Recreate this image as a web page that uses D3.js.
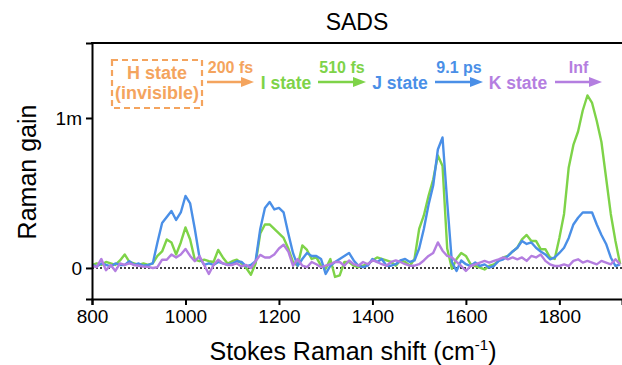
<!DOCTYPE html>
<html>
<head>
<meta charset="utf-8">
<script src="https://cdn.jsdelivr.net/npm/d3@7"></script>
<style>
  body { margin: 0; background: #fff; }
  svg { font-family: "Liberation Sans", Arial, sans-serif; }
</style>
</head>
<body>
<svg id="chart"></svg>
<script>
// wavenumber grid (cm-1), shared by all three spectra
const shifts = d3.range(800, 1931, 10);

// Raman gain in units of 1e-3
const jState = [ // blue
  0.02, 0.01, 0.03, 0.02, 0.01, 0.03, 0.02, 0.02, 0.045, 0.02,
  0.03, 0.015, 0.02, 0.03, 0.17, 0.30, 0.34, 0.38, 0.32, 0.37,
  0.48, 0.43, 0.26, 0.07, 0.02, 0.03, 0.02, 0.04, 0.03, 0.02,
  0.03, 0.045, 0.04, 0.01, 0.02, 0.045, 0.26, 0.40, 0.44, 0.39,
  0.40, 0.37, 0.23, 0.10, 0.015, 0.06, 0.10, 0.08, 0.08, 0.06,
  -0.04, 0.015, 0.04, 0.06, 0.08, 0.10, 0.05, 0.015, 0.005, 0.015,
  0.06, 0.04, 0.06, 0.015, 0.015, 0.025, 0.05, 0.06, 0.04, 0.05,
  0.13, 0.26, 0.42, 0.55, 0.79, 0.87, 0.44, 0.04, -0.02, 0.05,
  0.025, 0.013, 0.036, 0.013, 0.024, 0.002, 0.013, 0.047, 0.058, 0.08,
  0.11, 0.135, 0.18, 0.16, 0.17, 0.135, 0.11, 0.09, 0.058, 0.07,
  0.10, 0.135, 0.20, 0.29, 0.335, 0.37, 0.37, 0.37, 0.29, 0.22,
  0.16, 0.07, 0.013, 0.024
];
const iState = [ // green
  0.02, 0.03, 0.02, 0.04, 0.03, 0.02, 0.05, 0.09, 0.04, 0.03,
  0.02, 0.03, 0.02, 0.03, 0.08, 0.11, 0.19, 0.17, 0.09, 0.17,
  0.27, 0.19, 0.055, 0.045, 0.055, 0.045, 0.04, 0.12, 0.07, 0.03,
  0.045, 0.055, 0.03, 0.0, -0.045, 0.03, 0.23, 0.29, 0.29, 0.26,
  0.23, 0.20, 0.13, 0.04, 0.015, 0.15, 0.12, 0.06, 0.07, 0.015,
  -0.005, 0.06, -0.06, -0.05, 0.04, 0.04, 0.015, 0.005, 0.015, 0.025,
  0.05, 0.07, 0.06, 0.05, 0.04, 0.015, 0.05, 0.04, 0.015, 0.06,
  0.26, 0.35, 0.48, 0.59, 0.75, 0.68, 0.13, -0.005, 0.06, 0.10,
  0.08, 0.025, 0.013, 0.002, -0.01, 0.013, 0.024, 0.047, 0.07, 0.08,
  0.11, 0.135, 0.19, 0.22, 0.18, 0.18, 0.125, 0.125, 0.07, 0.06,
  0.20, 0.36, 0.67, 0.82, 0.91, 1.05, 1.15, 1.10, 0.98, 0.84,
  0.60, 0.36, 0.18, 0.025
];
const kState = [ // purple
  0.015, 0.005, 0.06, -0.015, 0.02, -0.02, 0.03, 0.02, 0.03, 0.02,
  0.015, 0.01, 0.007, 0.0, 0.005, 0.055, 0.055, 0.09, 0.07, 0.09,
  0.127, 0.08, 0.045, 0.08, 0.02, -0.04, 0.02, 0.055, 0.03, 0.02,
  0.02, 0.03, 0.01, 0.02, 0.0, 0.045, 0.087, 0.07, 0.07, 0.09,
  0.13, 0.155, 0.11, 0.015, 0.06, 0.015, 0.005, 0.04, 0.025, 0.005,
  0.015, 0.025, 0.04, 0.04, 0.015, 0.05, 0.025, 0.015, 0.04, 0.025,
  0.05, 0.04, 0.025, 0.015, 0.04, 0.05, 0.04, 0.025, 0.015, 0.015,
  0.025, 0.05, 0.08, 0.10, 0.17, 0.115, 0.08, 0.07, 0.04, 0.013,
  -0.02, 0.013, 0.024, 0.036, 0.047, 0.036, 0.047, 0.058, 0.07, 0.058,
  0.07, 0.058, 0.07, 0.047, 0.08, 0.07, 0.09, 0.047, 0.024, 0.013,
  0.013, 0.024, 0.013, 0.047, 0.058, 0.036, 0.047, 0.036, 0.024, 0.047,
  0.036, 0.024, 0.058, 0.024
];

const xTicks = [800, 1000, 1200, 1400, 1600, 1800];
const yTicks = [0, 1];
const yTickLabels = ["0", "1m"];

const series = [
  { name: "I state", values: iState, color: "#7ed348" },
  { name: "J state", values: jState, color: "#4a8fe7" },
  { name: "K state", values: kState, color: "#b47ee0" }
];

// kinetic scheme across the top
const steps = [
  { label: "I state", rate: "200 fs", color: "#7ed348", arrowColor: "#f4a45e", cx: 286, ax: [207, 254] },
  { label: "J state", rate: "510 fs", color: "#4a8fe7", arrowColor: "#7ed348", cx: 400, ax: [318, 366] },
  { label: "K state", rate: "9.1 ps", color: "#b47ee0", arrowColor: "#4a8fe7", cx: 518, ax: [435, 483] },
  { label: null, rate: "Inf", color: null, arrowColor: "#b47ee0", cx: null, ax: [555, 602] }
];

const W = 622, H = 365;
const svg = d3.select("#chart").attr("width", W).attr("height", H);

const x = d3.scaleLinear().domain([800, 1934]).range([92, 622]);
const y = d3.scaleLinear().domain([-0.207, 1.5]).range([299, 43]);

svg.append("defs").append("clipPath").attr("id", "plotclip")
  .append("rect")
  .attr("x", x(800)).attr("y", y(1.5))
  .attr("width", x(1934) - x(800)).attr("height", y(-0.207) - y(1.5));

// zero line
svg.append("line")
  .attr("x1", x(800)).attr("x2", x(1934))
  .attr("y1", y(0)).attr("y2", y(0))
  .attr("stroke", "#000").attr("stroke-width", 1.6)
  .attr("stroke-dasharray", "2,2");

const line = d3.line()
  .x((d, i) => x(shifts[i]))
  .y(d => y(d))
  .curve(d3.curveLinear);

const g = svg.append("g").attr("clip-path", "url(#plotclip)");
g.selectAll("path.spec")
  .data(series).enter().append("path")
  .attr("class", "spec")
  .attr("fill", "none")
  .attr("stroke", d => d.color)
  .attr("stroke-width", 2.4)
  .attr("stroke-linejoin", "round")
  .attr("d", d => line(d.values));

// axes
const xAxis = svg.append("g")
  .attr("transform", `translate(0,${y(-0.207)})`)
  .call(d3.axisBottom(x).tickValues(xTicks).tickFormat(d3.format("d"))
    .tickSizeOuter(0).tickSize(6).tickPadding(5));
const yAxis = svg.append("g")
  .attr("transform", `translate(${x(800)},0)`)
  .call(d3.axisLeft(y).tickValues(yTicks).tickSizeOuter(0).tickSize(6).tickPadding(4)
    .tickFormat((d, i) => yTickLabels[i]));

[xAxis, yAxis].forEach(a => {
  a.select(".domain").attr("stroke", "#000").attr("stroke-width", 2);
  a.selectAll(".tick line").attr("stroke", "#000").attr("stroke-width", 2);
  a.selectAll(".tick text")
    .attr("fill", "#000")
    .style("font-family", "Liberation Sans, Arial, sans-serif")
    .style("font-size", "19px");
});

// top frame line
svg.append("line")
  .attr("x1", x(800) - 1).attr("x2", x(1934))
  .attr("y1", y(1.5)).attr("y2", y(1.5))
  .attr("stroke", "#000").attr("stroke-width", 2);

// title and axis titles
svg.append("text")
  .attr("x", 357).attr("y", 30)
  .attr("text-anchor", "middle")
  .style("font-size", "23px")
  .text("SADS");

svg.append("text")
  .attr("transform", "translate(36,172) rotate(-90)")
  .attr("text-anchor", "middle")
  .style("font-size", "25px")
  .text("Raman gain");

const xl = svg.append("text")
  .attr("x", 353).attr("y", 360)
  .attr("text-anchor", "middle")
  .style("font-size", "25px");
xl.append("tspan").text("Stokes Raman shift (cm");
xl.append("tspan").attr("dy", -10).style("font-size", "15px").text("-1");
xl.append("tspan").attr("dy", 10).text(")");

// H state dashed box
const orange = "#f4a45e";
svg.append("rect")
  .attr("x", 112).attr("y", 60).attr("width", 90).attr("height", 48)
  .attr("fill", "none").attr("stroke", orange).attr("stroke-width", 2.2)
  .attr("stroke-dasharray", "6,4");
svg.append("text").attr("x", 157).attr("y", 79)
  .attr("text-anchor", "middle").attr("fill", orange)
  .style("font-size", "18px").style("font-weight", "bold").text("H state");
svg.append("text").attr("x", 157).attr("y", 99)
  .attr("text-anchor", "middle").attr("fill", orange)
  .style("font-size", "18px").style("font-weight", "bold").text("(invisible)");

const arrowY = 82;
const sg = svg.selectAll("g.step").data(steps).enter().append("g").attr("class", "step");
sg.append("line")
  .attr("x1", d => d.ax[0]).attr("x2", d => d.ax[1] - 8)
  .attr("y1", arrowY).attr("y2", arrowY)
  .attr("stroke", d => d.arrowColor).attr("stroke-width", 2.5);
sg.append("path")
  .attr("d", d => `M${d.ax[1]},${arrowY} L${d.ax[1] - 13},${arrowY - 5} L${d.ax[1] - 13},${arrowY + 5} Z`)
  .attr("fill", d => d.arrowColor);
sg.append("text")
  .attr("x", d => (d.ax[0] + d.ax[1]) / 2).attr("y", 73)
  .attr("text-anchor", "middle").attr("fill", d => d.arrowColor)
  .style("font-size", "16px").style("font-weight", "bold")
  .text(d => d.rate);
sg.filter(d => d.label).append("text")
  .attr("x", d => d.cx).attr("y", 89)
  .attr("text-anchor", "middle").attr("fill", d => d.color)
  .style("font-size", "17.5px").style("font-weight", "bold")
  .text(d => d.label);
</script>
</body>
</html>
